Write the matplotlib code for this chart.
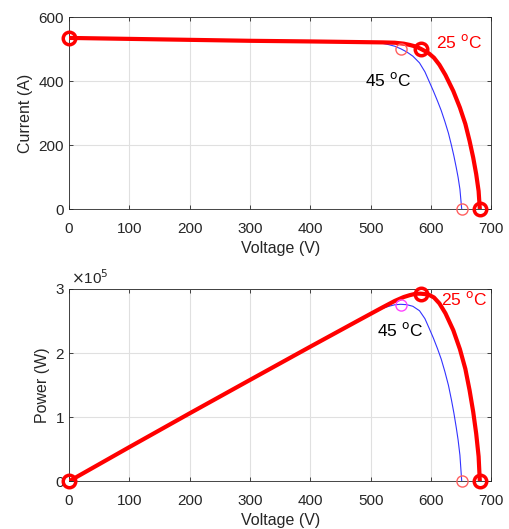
import numpy as np
import matplotlib
matplotlib.use("Agg")
import matplotlib.pyplot as plt
from matplotlib.ticker import FuncFormatter

plt.rcParams['font.family'] = ['Liberation Sans', 'DejaVu Sans']

# I-V curve, 25 oC
v25 = [0, 100, 200, 300, 400, 480, 520, 540, 555, 565, 575, 583, 590, 597, 605, 614,
       624, 637, 648, 657, 664, 670, 675, 679, 681]
i25 = [536, 533, 530, 527, 525, 523, 522, 521, 518, 514, 509, 502, 495, 487, 474, 452,
       420, 370, 318, 267, 214, 162, 110, 57, 0]

# I-V curve, 45 oC
v45 = [0, 100, 200, 300, 400, 480, 510, 520, 530, 540, 550, 560, 570, 581, 590, 597,
       604, 611, 617, 623, 629, 634, 638, 642, 645, 648, 651]
i45 = [536, 533, 530, 527, 525, 523, 521, 519, 515, 510, 502, 492, 479, 458, 430, 400,
       370, 338, 309, 275, 238, 200, 167, 130, 100, 63, 0]

# key points (Isc, MPP, Voc)
key25_v = [0, 583, 681]
key25_i = [536, 502, 0]
mpp45 = (550, 500)
voc45 = 651

p25 = np.array(v25) * np.array(i25)
p45 = np.array(v45) * np.array(i45)

red = '#ff0000'
light_red = '#ff6060'
tick_col = '#262626'

fig = plt.figure(figsize=(5.1, 5.29), dpi=100)
ax1 = fig.add_axes([0.1353, 0.6043, 0.828, 0.3627])
ax2 = fig.add_axes([0.1353, 0.0902, 0.828, 0.3635])

for ax in (ax1, ax2):
    ax.set_xlim(0, 700)
    ax.set_xticks(range(0, 701, 100))
    ax.grid(True, color='#e0e0e0', linewidth=0.8)
    ax.set_axisbelow(True)
    ax.tick_params(direction='in', top=True, right=True, length=3,
                   labelsize=11, colors=tick_col, width=0.6)
    ax.tick_params(axis='x', pad=9)
    for s in ax.spines.values():
        s.set_color('#262626')
        s.set_linewidth(0.6)
    ax.set_xlabel('Voltage (V)', fontsize=11.5, color=tick_col, labelpad=4)

# top: current
ax1.plot(v45, i45, color='#3333ff', lw=0.8, zorder=3)
ax1.plot(v25, i25, color=red, lw=3, zorder=4)
ax1.plot(key25_v, key25_i, 'o', mfc='none', mec=red, mew=2.5, ms=9, zorder=6, clip_on=False)
ax1.plot([mpp45[0], voc45], [mpp45[1], 0], 'o', mfc='none', mec=light_red, mew=1, ms=8,
         zorder=5, clip_on=False)
ax1.set_ylim(0, 600)
ax1.set_yticks([0, 200, 400, 600])
ax1.set_ylabel('Current (A)', fontsize=11.5, color=tick_col, labelpad=4)
ax1.text(609, 522, '25 $^{\\mathrm{o}}$C', color=red, fontsize=12.5, va='center', ha='left')
ax1.text(490, 405, '45 $^{\\mathrm{o}}$C', color='black', fontsize=12.5, va='center', ha='left')

# bottom: power
ax2.plot(v45, p45, color='#3333ff', lw=0.8, zorder=3)
ax2.plot(v25, p25, color=red, lw=3, zorder=4)
ax2.plot(key25_v, [0, key25_v[1] * key25_i[1], 0], 'o', mfc='none', mec=red, mew=2.5, ms=9,
         zorder=6, clip_on=False)
ax2.plot([mpp45[0]], [mpp45[0] * mpp45[1]], 'o', mfc='none', mec='#ff44ff', mew=1, ms=8,
         zorder=5, clip_on=False)
ax2.plot([voc45], [0], 'o', mfc='none', mec=light_red, mew=1, ms=8, zorder=5, clip_on=False)
ax2.set_ylim(0, 3e5)
ax2.set_yticks([0, 1e5, 2e5, 3e5])
ax2.yaxis.set_major_formatter(FuncFormatter(lambda y, pos: '%d' % round(y / 1e5)))
ax2.set_ylabel('Power (W)', fontsize=11.5, color=tick_col, labelpad=4)
ax2.text(0.005, 1.01, '$\\times$10$^5$', transform=ax2.transAxes, fontsize=11,
         color=tick_col, ha='left', va='bottom')
ax2.text(617, 2.84e5, '25 $^{\\mathrm{o}}$C', color=red, fontsize=12.5, va='center', ha='left')
ax2.text(510, 2.36e5, '45 $^{\\mathrm{o}}$C', color='black', fontsize=12.5, va='center', ha='left')

fig.savefig('out.png', dpi=100)
